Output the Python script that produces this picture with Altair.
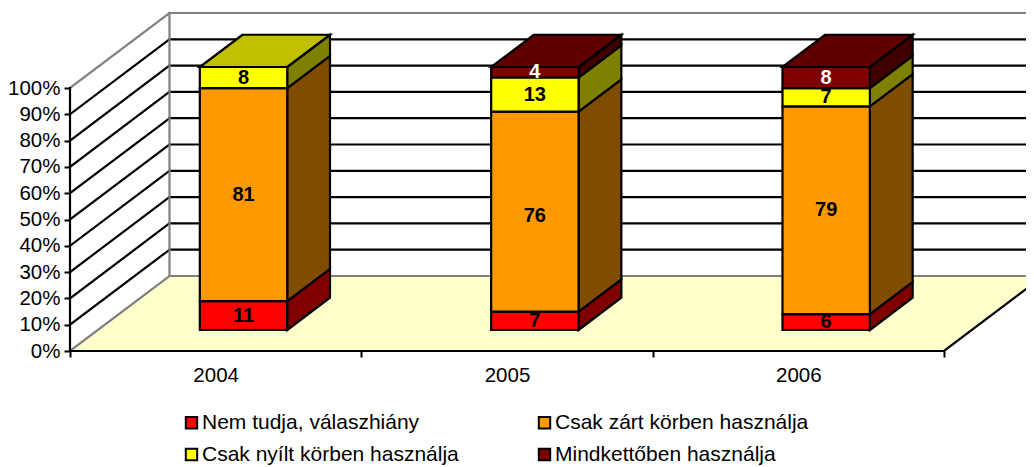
import altair as alt
import pandas as pd

years = ["2004", "2005", "2006"]
series = ["Nem tudja, válaszhiány", "Csak zárt körben használja",
          "Csak nyílt körben használja", "Mindkettőben használja"]
v_nem = [11, 7, 6]
v_zart = [81, 76, 79]
v_nyilt = [8, 13, 7]
v_mind = [0, 4, 8]
front_cols = ["#FF0000", "#FF9900", "#FFFF00", "#800000"]
side_cols = ["#800000", "#804D00", "#808000", "#400000"]
top_cols = ["#C00000", "#C07300", "#C0C000", "#600000"]
label_cols = ["#000000", "#000000", "#000000", "#FFFFFF"]
ticks_pct = list(range(0, 101, 10))

W, H = 1018, 459
UX = 291.33          # px per category
UY = 2.63            # px per percent
DX = 99.5 / UX       # depth shear in category units
DY = 75 / UY         # depth shear in percent
X0, Y0 = 62, 343     # origin inside the chart
D_FRONT, D_BACK = 0.28, 0.71
BAR_W = 0.30
LW = 2.2

xs = alt.Scale(domain=[-X0 / UX, (W - X0) / UX], range=[0, W], nice=False, zero=False)
ys = alt.Scale(domain=[(Y0 - H) / UY, Y0 / UY], range=[H, 0], nice=False, zero=False)


def px(u, d):
    return u + d * DX


def py(p, d):
    return p + d * DY


# walls and floor lines
lines = []


def seg(name, colour, a, b):
    for u, p, d in (a, b):
        lines.append({"id": name, "colour": colour, "x": px(u, d), "y": py(p, d)})


for p in ticks_pct[1:-1]:
    seg(f"b{p}", "#000000", (0, p, 1), (3, p, 1))
    seg(f"d{p}", "#000000", (0, p, 0), (0, p, 1))
for p in (0, 100):
    seg(f"b{p}", "#808080", (0, p, 1), (3, p, 1))
    seg(f"d{p}", "#808080", (0, p, 0), (0, p, 1))
seg("back", "#808080", (0, 0, 1), (0, 100, 1))
seg("yaxis", "#000000", (0, 0, 0), (0, 100, 0))
seg("xaxis", "#000000", (0, 0, 0), (3, 0, 0))
seg("right", "#000000", (3, 0, 0), (3, 0, 1))
lines = pd.DataFrame(lines)

floor = pd.DataFrame([
    {"y": py(0, 0), "x": px(0, 0), "x2": px(3, 0)},
    {"y": py(0, 1), "x": px(0, 1), "x2": px(3, 1)},
])

fronts, sides, tops, labels = [], [], [], []
for i, yr in enumerate(years):
    base = 0
    vals = [v_nem[i], v_zart[i], v_nyilt[i], v_mind[i]]
    last = max(k for k, v in enumerate(vals) if v > 0)
    l = i + 0.5 - BAR_W / 2
    r = i + 0.5 + BAR_W / 2
    for k, v in enumerate(vals):
        if v <= 0:
            continue
        top = base + v
        fronts.append({"s": series[k], "x": px(l, D_FRONT), "x2": px(r, D_FRONT),
                       "y": py(base, D_FRONT), "y2": py(top, D_FRONT)})
        for d in (D_FRONT, D_BACK):
            sides.append({"id": f"{yr}-{k}", "fill": side_cols[k], "x": px(r, d),
                          "y": py(base, d), "y2": py(top, d)})
        if k == last:
            for d in (D_FRONT, D_BACK):
                tops.append({"id": yr, "fill": top_cols[k], "y": py(top, d),
                             "x": px(l, d), "x2": px(r, d)})
        labels.append({"t": str(v), "fill": label_cols[k], "x": px(i + 0.5, D_FRONT),
                       "y": py(base + v / 2 - (1.5 if v == 76 else 0), D_FRONT)})
        base = top

FONT = "Liberation Sans"
x_axis = alt.Axis(
    values=[0, 0.5, 1, 1.5, 2, 2.5, 3], orient="bottom", offset=Y0 - H, domain=False, grid=False,
    title=None, tickSize=6, tickWidth=2, tickColor="#000000",
    tickOpacity={"condition": {"test": "datum.value % 1 == 0", "value": 1}, "value": 0},
    labelExpr="datum.value % 1 == 0 ? '' : " + str(years) + "[floor(datum.value)]",
    labelFont=FONT, labelFontSize=20.5, labelColor="#000000", labelPadding=8,
    labelOverlap=False, labelFlush=False,
)
y_axis = alt.Axis(
    values=ticks_pct, orient="left", offset=-X0, domain=False, grid=False, title=None,
    tickSize=6, tickWidth=2, tickColor="#000000", labelExpr="datum.value + '%'",
    labelFont=FONT, labelFontSize=20.5, labelColor="#000000", labelPadding=4, labelOverlap=False,
)
X = alt.X("x:Q", scale=xs, axis=x_axis, title=None)
Y = alt.Y("y:Q", scale=ys, axis=y_axis, title=None)

floor_l = alt.Chart(floor).mark_area(orient="horizontal", fill="#FFFFCC").encode(
    y=Y, x=X, x2="x2:Q",
)
line_l = alt.Chart(lines).mark_line(strokeWidth=LW, strokeCap="square").encode(
    x=X, y=Y,
    stroke=alt.Stroke("colour:N", scale=None),
    detail="id:N",
)
side_l = alt.Chart(pd.DataFrame(sides)).mark_area(
    orient="vertical", stroke="#000000", strokeWidth=LW, strokeJoin="miter"
).encode(
    x=X, y=Y, y2="y2:Q",
    fill=alt.Fill("fill:N", scale=None),
    detail="id:N",
)
top_l = alt.Chart(pd.DataFrame(tops)).mark_area(
    orient="horizontal", stroke="#000000", strokeWidth=LW, strokeJoin="miter"
).encode(
    y=Y, x=X, x2="x2:Q",
    fill=alt.Fill("fill:N", scale=None),
    detail="id:N",
)
front_l = alt.Chart(pd.DataFrame(fronts)).mark_rect(stroke="#000000", strokeWidth=LW).encode(
    x=X, x2="x2:Q", y=Y, y2="y2:Q",
    color=alt.Color("s:N", scale=alt.Scale(domain=series, range=front_cols), legend=alt.Legend(
        orient="none", legendX=173, legendY=404, columns=2, direction="horizontal", title=None,
        symbolType="square", symbolSize=130, symbolStrokeColor="#000000", symbolStrokeWidth=2,
        labelFont=FONT, labelFontSize=21, labelColor="#000000", labelLimit=500,
        columnPadding=75, rowPadding=10, labelOffset=0,
    )),
)
text_l = alt.Chart(pd.DataFrame(labels)).mark_text(
    font=FONT, fontSize=20, fontWeight="bold", baseline="middle", align="center"
).encode(
    x=X, y=Y, text="t:N",
    fill=alt.Fill("fill:N", scale=None),
)

chart = alt.layer(floor_l, line_l, side_l, top_l, front_l, text_l).properties(
    width=W, height=H,
    autosize=alt.AutoSizeParams(type="none"),
    padding=0,
    background="#FFFFFF",
).configure_view(stroke=None)

chart.save("out.html", embed_options={"renderer": "svg", "actions": False})
